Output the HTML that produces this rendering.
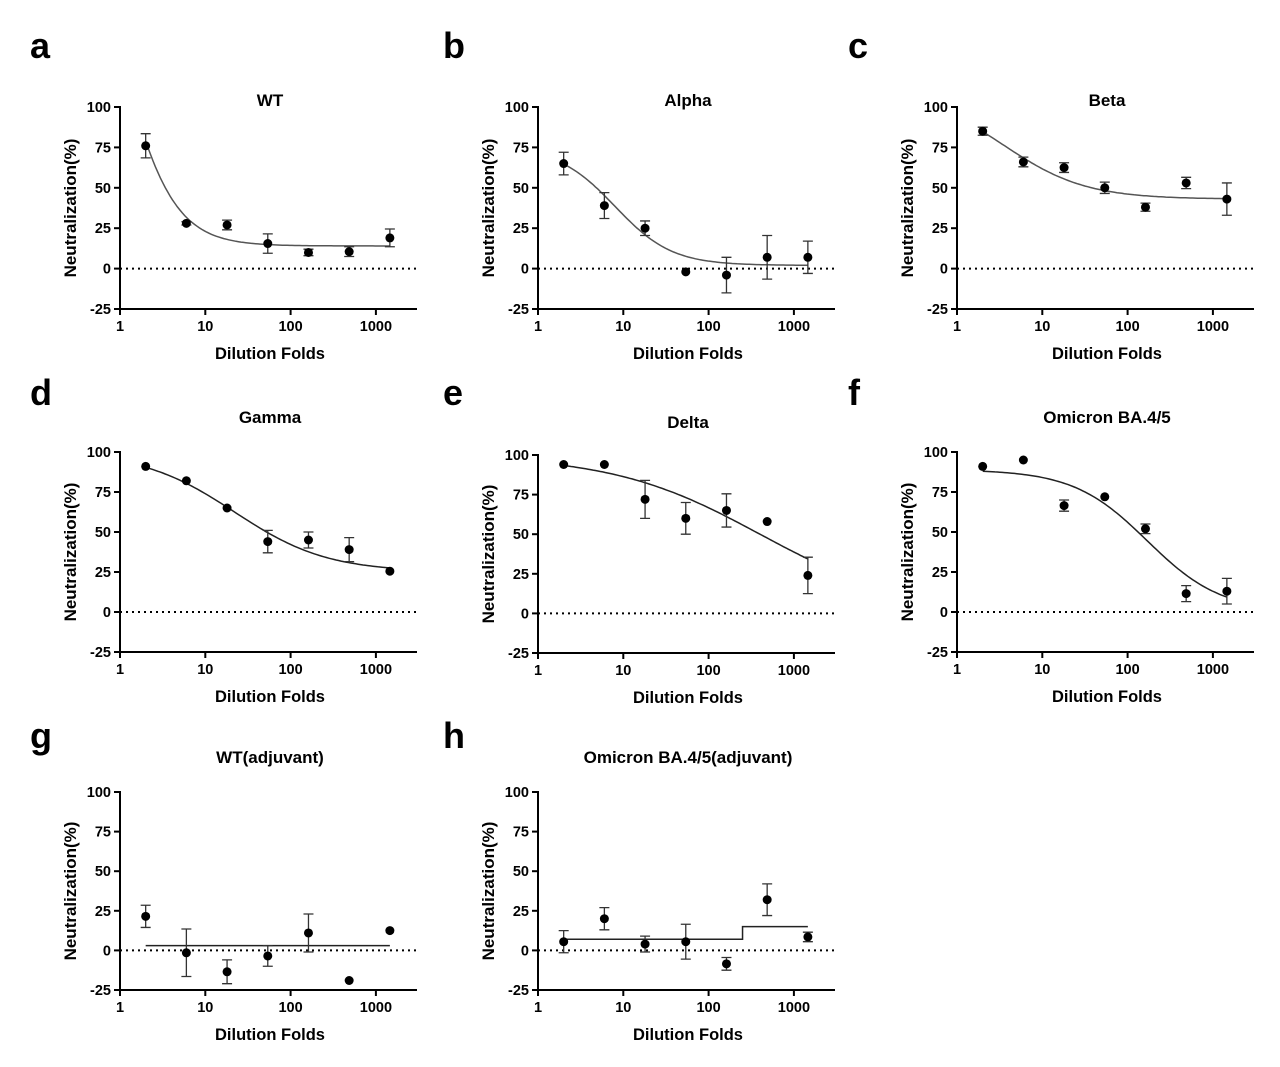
<!DOCTYPE html>
<html><head><meta charset="utf-8"><style>
body{margin:0;background:#fff;width:1280px;height:1062px;overflow:hidden}
svg text{font-family:"Liberation Sans",Arial,sans-serif;font-weight:bold;fill:#000}
</style></head><body>
<svg id="fig" width="1280" height="1062" viewBox="0 0 1280 1062" xmlns="http://www.w3.org/2000/svg"></svg>
<script>
const xDilutions=[2,6,18,54,162,486,1458];
const xTicks=[1,10,100,1000];
const yTicks=[100,75,50,25,0,-25];
const panelTitles=["WT","Alpha","Beta","Gamma","Delta","Omicron BA.4/5","WT(adjuvant)","Omicron BA.4/5(adjuvant)"];
const panelLetters=["a","b","c","d","e","f","g","h"];
const meansA=[76,28,27,15.5,10,10.5,19], errA=[7.5,1,3,6,2,3,5.5];
const meansB=[65,39,25,-2,-4,7,7], errB=[7,8,4.5,0,11,13.5,10];
const meansC=[85,66,62.5,50,38,53,43], errC=[2.5,3,3,3.5,2.5,3.5,10];
const meansD=[91,82,65,44,45,39,25.5], errD=[0,0,0,7,5,7.5,0];
const meansE=[94,94,72,60,65,58,24], errE=[0,0,12,10,10.5,0,11.5];
const meansF=[91,95,66.5,72,52,11.5,13], errF=[0,0,3.5,0,3,5,8];
const meansG=[21.5,-1.5,-13.5,-3.5,11,-19,12.5], errG=[7,15,7.5,6.5,12,0,0];
const meansH=[5.5,20,4,5.5,-8.5,32,8.5], errH=[7,7,5,11,4,10,3];
// 4PL fit params: [bottom, top, ec50, hill]
const fitA=[14,250,1,1.4], fitB=[2,75,8,1.3], fitC=[43,110,3.5,0.9];
const fitD=[25,100,22,0.8], fitE=[0,100,400,0.5], fitF=[0,89,170,1.0];
const lineG=[3]; // constant fit
const stepH=[7,15,250]; // level1, level2, switch dilution
const panels=[
 {l:120,t:107,h:202,m:meansA,e:errA,f:fitA,ty:100,col:"#555"},
 {l:538,t:107,h:202,m:meansB,e:errB,f:fitB,ty:100,col:"#555"},
 {l:957,t:107,h:202,m:meansC,e:errC,f:fitC,ty:100,col:"#555"},
 {l:120,t:452,h:200,m:meansD,e:errD,f:fitD,ty:417,col:"#222"},
 {l:538,t:455,h:198,m:meansE,e:errE,f:fitE,ty:422,col:"#222"},
 {l:957,t:452,h:200,m:meansF,e:errF,f:fitF,ty:417,col:"#222"},
 {l:120,t:792,h:198,m:meansG,e:errG,g:lineG,ty:757,col:"#222"},
 {l:538,t:792,h:198,m:meansH,e:errH,s:stepH,ty:757,col:"#222"}
];
const letterPos=[[30,58],[443,58],[848,58],[30,405],[443,405],[848,405],[30,748],[443,748]];
const NS="http://www.w3.org/2000/svg";
const svg=document.getElementById('fig');
function el(tag,attrs,parent,txt){const e=document.createElementNS(NS,tag);for(const k in attrs)e.setAttribute(k,attrs[k]);if(txt!==undefined)e.textContent=txt;(parent||svg).appendChild(e);return e;}
const DEC=85.3, W=297;
panels.forEach((p,i)=>{
 const g=el('g',{});
 
 
 const X=v=>p.l+Math.log10(v)*DEC;
 const Y=v=>p.t+(100-v)/125*p.h;
 const bot=p.t+p.h;
 let t=el('text',{x:letterPos[i][0],y:letterPos[i][1],'font-size':36,'text-anchor':'start'},g,panelLetters[i]);
 
 t=el('text',{x:p.l+150,y:p.ty+6,'font-size':17,'text-anchor':'middle'},g,panelTitles[i]);
 
 let a=el('line',{x1:p.l,y1:p.t-1,x2:p.l,y2:bot,stroke:'#000','stroke-width':2},g);
 
 a=el('line',{x1:p.l-1,y1:bot,x2:p.l+W,y2:bot,stroke:'#000','stroke-width':2},g);
 
 yTicks.forEach(v=>{el('line',{x1:p.l-6,y1:Y(v),x2:p.l,y2:Y(v),stroke:'#000','stroke-width':2},g);
  const tl=el('text',{x:p.l-9,y:Y(v)+5,'font-size':14.5,'text-anchor':'end'},g,String(v));
  });
 xTicks.forEach(v=>{el('line',{x1:X(v),y1:bot,x2:X(v),y2:bot+6,stroke:'#000','stroke-width':2},g);
  const tl=el('text',{x:X(v),y:bot+22,'font-size':14.5,'text-anchor':'middle'},g,String(v));
  });
 t=el('text',{x:p.l+150,y:bot+50,'font-size':16.5,'text-anchor':'middle'},g,'Dilution Folds');
 
 const cy=(p.t+bot)/2;
 t=el('text',{x:p.l-44,y:cy,'font-size':17,'text-anchor':'middle',transform:`rotate(-90 ${p.l-44} ${cy})`},g,'Neutralization(%)');
 
 const z=el('line',{x1:p.l,y1:Y(0),x2:p.l+W,y2:Y(0),stroke:'#000','stroke-width':2,'stroke-dasharray':'2 4'},g);
 
 let d='';
 if(p.f){const [b,tp,ec,hh]=p.f;for(let k=0;k<=100;k++){const lx=Math.log10(2)+k/100*(Math.log10(1458)-Math.log10(2));const x=Math.pow(10,lx);const y=b+(tp-b)/(1+Math.pow(x/ec,hh));d+=(k?'L':'M')+X(x).toFixed(1)+' '+Y(y).toFixed(1);}}
 else if(p.g){d=`M${X(2)} ${Y(p.g[0])}L${X(1458)} ${Y(p.g[0])}`;}
 else if(p.s){d=`M${X(2)} ${Y(p.s[0])}L${X(p.s[2])} ${Y(p.s[0])}L${X(p.s[2])} ${Y(p.s[1])}L${X(1458)} ${Y(p.s[1])}`;}
 const c=el('path',{d:d,fill:'none',stroke:p.col,'stroke-width':1.5},g);
 
 p.m.forEach((v,k)=>{const x=X(xDilutions[k]);const e=p.e[k];
  if(e>0){const eb=el('path',{d:`M${x} ${Y(v+e)}L${x} ${Y(v-e)}M${x-5} ${Y(v+e)}L${x+5} ${Y(v+e)}M${x-5} ${Y(v-e)}L${x+5} ${Y(v-e)}`,stroke:'#333','stroke-width':1.3,fill:'none'},g);
   }
  const pt=el('circle',{cx:x,cy:Y(v),r:4.5,fill:'#000'},g);
  });
});
</script>
</body></html>
